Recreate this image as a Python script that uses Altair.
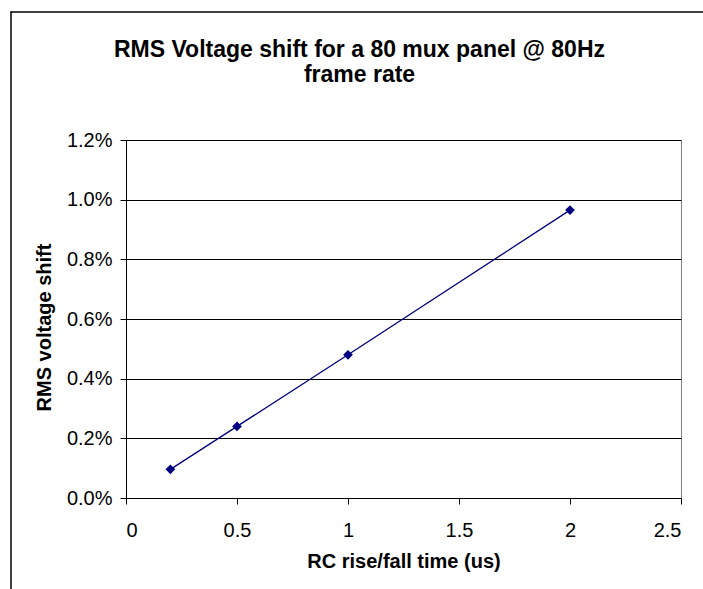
import altair as alt
import pandas as pd

rise_time_us = [0.2, 0.5, 1.0, 2.0]
rms_shift = [0.00096, 0.0024, 0.0048, 0.00965]
title_lines = ["RMS Voltage shift for a 80 mux panel @ 80Hz", "frame rate"]

df = pd.DataFrame({"t": rise_time_us, "v": rms_shift})

FONT = "Liberation Sans"
W, H = 555, 358

x = alt.X("t:Q", scale=alt.Scale(domain=[0, 2.5], nice=False),
          axis=alt.Axis(values=[0, 0.5, 1, 1.5, 2, 2.5], title="RC rise/fall time (us)",
                        format="~g", grid=False, domainColor="black", tickColor="black",
                        tickSize=6, labelPadding=16, titlePadding=11))
y = alt.Y("v:Q", scale=alt.Scale(domain=[0, 0.012], nice=False),
          axis=alt.Axis(values=[0, 0.002, 0.004, 0.006, 0.008, 0.01, 0.012], format=".1%",
                        title="RMS voltage shift", grid=True, gridColor="black", gridWidth=1,
                        domainColor="black", tickColor="black", tickSize=6, labelPadding=8,
                        titleAngle=-90, titleX=-82, titleY=187, titleAlign="center",
                        titleBaseline="middle"))

line = alt.Chart(df).mark_line(color="#000080", strokeWidth=1.3).encode(x=x, y=y)
pts = alt.Chart(df).mark_point(shape="diamond", filled=True, color="#000080", size=95, opacity=1).encode(x="t:Q", y="v:Q")

one = pd.DataFrame({"a": [0]})
border_top = alt.Chart(one).mark_rule(color="black", strokeWidth=1.5).encode(
    x=alt.value(-115.5), x2=alt.value(W + 60), y=alt.value(-128))
border_left = alt.Chart(one).mark_rule(color="black", strokeWidth=1.5).encode(
    x=alt.value(-115), y=alt.value(-128.5), y2=alt.value(H + 120))

t1 = alt.Chart(one).mark_text(text=title_lines[0], font=FONT, fontSize=23, fontWeight="bold",
                              color="black", align="center", baseline="alphabetic").encode(
    x=alt.value(233.5), y=alt.value(-83))
t2 = alt.Chart(one).mark_text(text=title_lines[1], font=FONT, fontSize=23, fontWeight="bold",
                              color="black", align="center", baseline="alphabetic").encode(
    x=alt.value(233.5), y=alt.value(-58))

chart = alt.layer(border_top, border_left, line, pts, t1, t2).properties(
    width=W, height=H,
    background="white",
    autosize=alt.AutoSizeParams(type="none"),
    padding={"left": 126, "top": 140, "right": 22, "bottom": 91},
).configure_view(stroke="#808080", strokeWidth=1).configure_axis(
    labelFont=FONT, labelFontSize=20, labelColor="black",
    titleFont=FONT, titleFontSize=20, titleFontWeight="bold", titleColor="black"
)

chart.save("out.html", embed_options={"renderer": "svg", "actions": False})
